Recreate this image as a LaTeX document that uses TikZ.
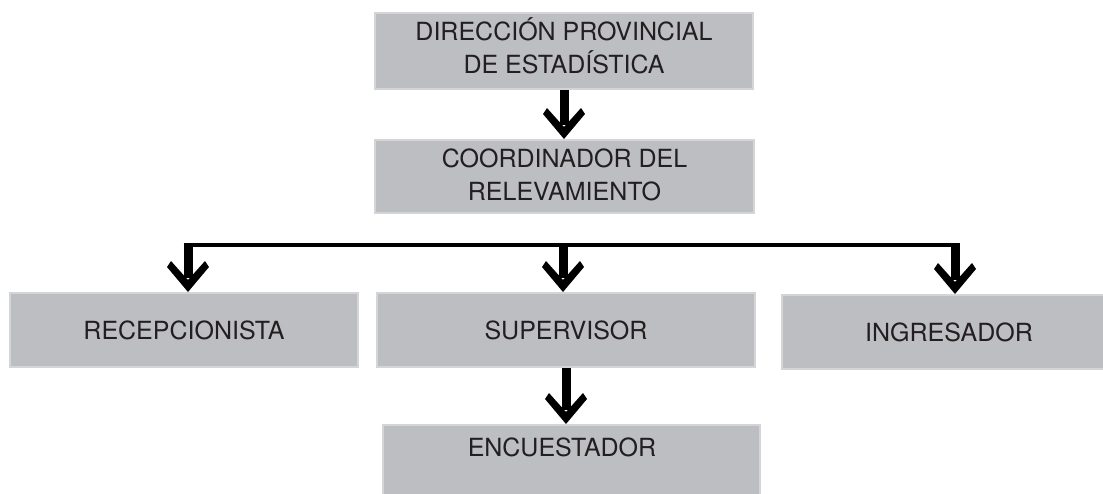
\documentclass[tikz,border=0pt]{standalone}
\usepackage{fontspec}
\setmainfont{TeX Gyre Heros}

\definecolor{boxfill}{RGB}{189,190,193}
\definecolor{boxline}{RGB}{212,213,215}
\definecolor{ink}{RGB}{35,31,32}

\tikzset{
  unit/.style={rectangle, fill=boxfill, draw=boxline, line width=2pt,
    inner sep=0pt, text=ink, align=center,
    font=\fontsize{25}{33}\selectfont},
  oneline/.style={text height=18pt, text depth=0pt},
  shaft/.style={line width=9pt, black},
  bar/.style={line width=4pt, black},
}

% chevron head, tip at #1
\newcommand\flowhead[1]{%
  \fill[black] (#1) -- ++(-21,-25) -- ++(4,-6) -- ++(17,19)
    -- ++(17,-19) -- ++(4,6) -- cycle;}
\newcommand\flow[2]{%
  \draw[shaft] (#1) -- ([yshift=14pt]#2);
  \flowhead{#2}}

\begin{document}
\begin{tikzpicture}[x=1pt,y=-1pt]
  \useasboundingbox (0,0) rectangle (1103,493);

  \node[unit, minimum width=378pt, minimum height=76pt] (dir) at (564,51)
    {DIRECCIÓN PROVINCIAL\\DE ESTADÍSTICA\rule[-10pt]{0pt}{10pt}};
  \node[unit, minimum width=379pt, minimum height=73pt] (coord) at (564.5,176.5)
    {COORDINADOR DEL\\RELEVAMIENTO\rule[-4pt]{0pt}{4pt}};
  \node[unit, oneline, minimum width=348pt, minimum height=74pt] (rec) at (184,330)
    {RECEPCIONISTA};
  \node[unit, oneline, minimum width=378pt, minimum height=74pt] (sup) at (566,330)
    {SUPERVISOR};
  \node[unit, oneline, minimum width=334pt, minimum height=74pt] (ing) at (949,332)
    {INGRESADOR};
  \node[unit, oneline, text depth=30pt, minimum width=377pt, minimum height=75pt]
    (enc) at (571.5,462.5) {ENCUESTADOR\hspace*{19pt}};

  % branch bar
  \coordinate (bl) at (188,245);
  \coordinate (bm) at (563,245);
  \coordinate (br) at (955,245);
  \draw[bar] ([xshift=-4.5pt]bl) -- ([xshift=4.5pt]br);

  \coordinate (h1) at (dir.south |- coord.north);
  \coordinate (h2) at (bl |- rec.north);
  \coordinate (h3) at (bm |- sup.north);
  \coordinate (h4) at (br |- ing.north);
  \coordinate (h5) at (sup.south |- enc.north);

  \flow{dir.south}{h1}
  \flow{bl}{h2}
  \flow{bm}{h3}
  \flow{br}{h4}
  \flow{sup.south}{h5}
\end{tikzpicture}
\end{document}
